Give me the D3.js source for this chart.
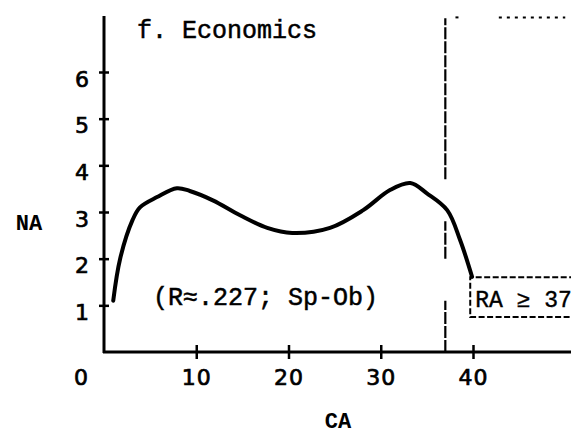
<!DOCTYPE html>
<html>
<head>
<meta charset="utf-8">
<script src="https://cdn.jsdelivr.net/npm/d3@7"></script>
<style>
  html, body { margin: 0; padding: 0; background: #fff; }
  svg { display: block; }
  .mono { font-family: "Liberation Mono", "DejaVu Sans Mono", monospace; fill: #000; }
  .digits { font-family: "DejaVu Sans", sans-serif; fill: #000; stroke: #000; stroke-width: 0.7px; }
</style>
</head>
<body>
<svg id="chart" width="571" height="437"></svg>
<script>
// ---- data ----
const curveCA = [1, 1.75, 3.1, 3.9, 5.75, 7.9, 9.3, 11.8, 14.75, 17.7, 20.4, 24.5, 28.1, 31.0, 33.2, 35.0, 37.2, 38.6, 39.9];
const curveNA = [1.1, 2.0, 2.83, 3.1, 3.32, 3.51, 3.45, 3.25, 2.93, 2.66, 2.55, 2.66, 3.04, 3.47, 3.62, 3.40, 3.04, 2.40, 1.61];
const xTicks = [10, 20, 30, 40];
const yTicks = [1, 2, 3, 4, 5, 6];
const cutoffCA = 37;
const titleText = "f. Economics";
const noteText = "(R\u2248.227; Sp-Ob)";
const boxText = "RA \u2265 37";
const boxNA = [0.75, 1.6];     // bottom / top of RA box in NA units
const boxCA = [39.7, 52];      // left / right of RA box in CA units

const svg = d3.select("#chart");
const x = d3.scaleLinear().domain([0, 40]).range([104, 473]);
const y = d3.scaleLinear().domain([0, 6]).range([352, 72]);
const yTop = 7.2;

// ---- axes lines ----
svg.append("line").attr("x1", x(0)).attr("x2", x(0)).attr("y1", y(yTop)).attr("y2", y(0) + 1)
  .attr("stroke", "#000").attr("stroke-width", 3);
svg.append("line").attr("x1", x(0) - 1).attr("x2", x(52)).attr("y1", y(0)).attr("y2", y(0))
  .attr("stroke", "#000").attr("stroke-width", 3);

// ---- y axis ticks & labels ----
const yAxis = d3.axisLeft(y).tickValues(yTicks).tickSize(5).tickPadding(10).tickFormat(d3.format("d"));
const gy = svg.append("g").attr("transform", `translate(${x(0)},0)`).call(yAxis);
gy.select(".domain").remove();
gy.selectAll(".tick line").attr("x2", -5).attr("x1", 5).attr("stroke", "#000").attr("stroke-width", 2.5);
gy.selectAll(".tick text").attr("class", "digits").attr("font-size", 22).attr("dy", "0.32em")
  .attr("transform", "translate(0,7)").attr("font-family", null).attr("fill", null);

// ---- x axis ticks & labels ----
const xAxis = d3.axisBottom(x).tickValues(xTicks).tickSize(7).tickPadding(10).tickFormat(d3.format("d"));
const gx = svg.append("g").attr("transform", `translate(0,${y(0)})`).call(xAxis);
gx.select(".domain").remove();
gx.selectAll(".tick line").attr("y1", -7).attr("y2", 7).attr("stroke", "#000").attr("stroke-width", 2.5);
gx.selectAll(".tick text").attr("class", "digits").attr("font-size", 22).attr("font-family", null)
  .attr("fill", null).attr("letter-spacing", 1);
// origin label "0"
svg.append("text").attr("class", "digits").attr("font-size", 22)
  .attr("x", x(0) - 23).attr("y", y(0) + 17).attr("dy", "0.71em").attr("text-anchor", "middle").text("0");

// ---- dashed cutoff line at CA = 37 ----
const cutSegs = [[0, 1.1], [2.0, 2.8], [3.7, yTop - 0.05]];
cutSegs.forEach(s => {
  svg.append("line").attr("x1", x(cutoffCA)).attr("x2", x(cutoffCA))
    .attr("y1", y(s[0])).attr("y2", y(s[1]))
    .attr("stroke", "#000").attr("stroke-width", 2.2).attr("stroke-dasharray", "12,2");
});
// sparse top dotted line
[[38.1, 38.9], [42.8, 50]].forEach(s => {
  svg.append("line").attr("x1", x(s[0])).attr("x2", x(s[1]))
    .attr("y1", y(yTop - 0.03)).attr("y2", y(yTop - 0.03))
    .attr("stroke", "#000").attr("stroke-width", 2).attr("stroke-dasharray", "3,5");
});

// ---- RA box ----
svg.append("path")
  .attr("d", `M${x(boxCA[1])},${y(boxNA[1])} L${x(boxCA[0])},${y(boxNA[1])} L${x(boxCA[0])},${y(boxNA[0])} L${x(boxCA[1])},${y(boxNA[0])}`)
  .attr("fill", "none").attr("stroke", "#000").attr("stroke-width", 2).attr("stroke-dasharray", "6,2.5");
svg.append("text").attr("class", "mono").attr("font-size", 23)
  .attr("x", x(boxCA[0]) + 5).attr("y", y(boxNA[0]) - 10)
  .attr("stroke", "#000").attr("stroke-width", 0.4).text(boxText);

// ---- curve ----
const pts = curveCA.map((c, i) => [c, curveNA[i]]);
const line = d3.line().x(d => x(d[0])).y(d => y(d[1])).curve(d3.curveCatmullRom.alpha(0.5));
svg.append("path").datum(pts).attr("d", line)
  .attr("fill", "none").attr("stroke", "#000").attr("stroke-width", 4)
  .attr("stroke-linecap", "round").attr("stroke-linejoin", "round");

// ---- texts ----
svg.append("text").attr("class", "mono").attr("font-size", 25)
  .attr("x", 137).attr("y", 38).attr("stroke", "#000").attr("stroke-width", 0.5).text(titleText);
svg.append("text").attr("class", "mono").attr("font-size", 25)
  .attr("x", 153).attr("y", 305).attr("stroke", "#000").attr("stroke-width", 0.5).text(noteText);
svg.append("text").attr("class", "mono").attr("font-size", 22).attr("font-weight", "bold")
  .attr("x", 29).attr("y", 222).attr("dy", "0.35em").attr("text-anchor", "middle").text("NA");
svg.append("text").attr("class", "mono").attr("font-size", 22).attr("font-weight", "bold")
  .attr("x", 338).attr("y", 428).attr("text-anchor", "middle").text("CA");
</script>
</body>
</html>
